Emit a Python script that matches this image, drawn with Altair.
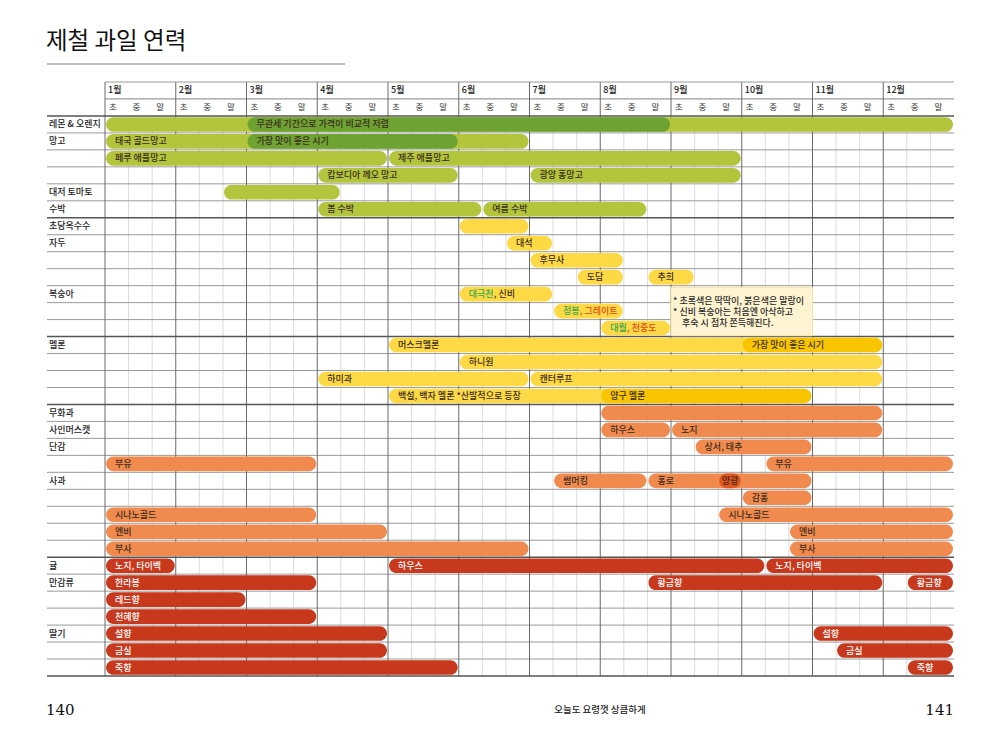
import altair as alt
import pandas as pd

FONT = "Noto Sans CJK KR"
FS = 9

row_names = ["레몬 & 오렌지", "망고", "", "", "대저 토마토", "수박", "초당옥수수", "자두", "", "",
             "복숭아", "", "", "멜론", "", "", "", "무화과", "사인머스캣", "단감", "", "사과", "",
             "", "", "", "귤", "만감류", "", "", "딸기", "", ""]

months = [f"{m}월" for m in range(1, 13)]
dekads = ["초", "중", "말"]

# bars: row, start (dekad index 0-36), end, label, tone
bar_row = [0, 0, 1, 1, 2, 2, 3, 3, 4, 5, 5,
           6, 7, 8, 9, 9, 10, 11, 12,
           13, 13, 14, 15, 15, 16, 16,
           17, 18, 18, 19, 20, 20, 21, 21, 21, 22, 23, 23, 24, 24, 25, 25,
           26, 26, 26, 27, 27, 27, 28, 29, 30, 30, 31, 31, 32, 32]
bar_start = [0, 6, 0, 6, 0, 12, 9, 18, 5, 9, 16,
             15, 17, 18, 20, 23, 15, 19, 21,
             12, 27, 15, 9, 18, 12, 21,
             21, 21, 24, 25, 0, 28, 19, 23, 26, 27, 0, 26, 0, 29, 0, 29,
             0, 12, 28, 0, 23, 34, 0, 0, 0, 30, 0, 31, 0, 34]
bar_end = [36, 24, 18, 15, 12, 27, 15, 27, 10, 16, 23,
           18, 19, 22, 22, 25, 19, 22, 24,
           33, 33, 33, 18, 33, 22, 30,
           33, 24, 33, 30, 9, 36, 23, 30, 27, 30, 9, 36, 12, 36, 18, 36,
           3, 28, 36, 9, 33, 36, 6, 9, 12, 36, 12, 36, 15, 36]
bar_label = ["", "무관세 기간으로 가격이 비교적 저렴", "태국 골드망고", "가장 맛이 좋은 시기",
             "페루 애플망고", "제주 애플망고", "캄보디아 께오 망고", "광양 홍망고", "", "봄 수박", "여름 수박",
             "", "대석", "후무사", "도담", "추희", "", "", "",
             "머스크멜론", "가장 맛이 좋은 시기", "하니원", "하미과", "캔터루프",
             "백설, 백자 멜론 *산발적으로 등장", "양구 멜론",
             "", "하우스", "노지", "상서, 태추", "부유", "부유", "썸머킹", "홍로", "양광", "감홍",
             "시나노골드", "시나노골드", "엔비", "엔비", "부사", "부사",
             "노지, 타이벡", "하우스", "노지, 타이벡", "한라봉", "황금향", "황금향", "레드향", "천혜향",
             "설향", "설향", "금실", "금실", "죽향", "죽향"]
bar_tone = ["g", "G", "g", "G", "g", "g", "g", "g", "g", "g", "g",
            "y", "y", "y", "y", "y", "y", "y", "y",
            "y", "Y", "y", "y", "y", "y", "Y",
            "o", "o", "o", "o", "o", "o", "o", "o", "O", "o", "o", "o", "o", "o", "o", "o",
            "r", "r", "r", "r", "r", "r", "r", "r", "r", "r", "r", "r", "r", "r"]

# multi-coloured peach labels
part_row = [10, 10, 11, 11, 12, 12]
part_start = [15, 15, 19, 19, 21, 21]
part_text = ["대극천", ", 신비", "정봉", ", 그레이트", "대월", ", 천중도"]
part_tone = ["green", "ink", "green", "red", "green", "red"]
part_lead = [0, 3, 0, 2, 0, 2]

note_lines = ["* 초록색은 딱딱이, 붉은색은 말랑이", "* 신비 복숭아는 처음엔 아삭하고",
              "후숙 시 점차 쫀득해진다."]
note_indent = [0, 0, 1]

group_lines = [0, 6, 13, 17, 26, 33]

tone_fill = {"g": "#B3C43D", "G": "#6EA233", "y": "#FDD945", "Y": "#F9C400",
             "o": "#F08A4E", "O": "#E4541E", "r": "#C8381D"}
text_col = {"green": "#34A853", "ink": "#3a2c1c", "red": "#E2471C"}

xs = alt.Scale(domain=[0, 36], range=[97, 946], nice=False, zero=False)
ys = alt.Scale(domain=[-2, 33], range=[74, 668], nice=False, zero=False)


def X(f):
    return alt.X(f, type="quantitative", scale=xs, axis=None)


def Y(f):
    return alt.Y(f, type="quantitative", scale=ys, axis=None)


bars = pd.DataFrame({"row": bar_row, "start": bar_start, "end": bar_end,
                     "label": bar_label, "tone": bar_tone})
bars["fill"] = bars["tone"].map(tone_fill)
bars["tcol"] = ["#ffffff" if t == "r" else "#3a2c1c" for t in bars["tone"]]
bars["x0"] = bars["start"] + 0.045
bars["x1"] = bars["end"] - 0.045
bars["y0"] = bars["row"] + 0.07
bars["y1"] = bars["row"] + 0.93
bars["yc"] = bars["row"] + 0.5
bars["xm"] = (bars["start"] + bars["end"]) / 2
bars["short"] = (bars["end"] - bars["start"]) <= 1

# grid
dek_df = pd.DataFrame({"x": [d for d in range(1, 36) if d % 3 != 0]})
dek_df["y0"] = 0
dek_df["y1"] = 33
mon_df = pd.DataFrame({"x": list(range(0, 36, 3))})
mon_df["y0"] = -2
mon_df["y1"] = 33
hl_df = pd.DataFrame({"y": [r for r in range(1, 33) if r not in group_lines]})
gl_df = pd.DataFrame({"y": group_lines})
hd_df = pd.DataFrame({"y": [-2, -1], "x0": [0, 0], "x1": [36, 36]})

dek_rules = alt.Chart(dek_df).mark_rule(color="#dcdcdc", strokeWidth=1).encode(
    x=X("x"), y=Y("y0"), y2="y1")
mon_rules = alt.Chart(mon_df).mark_rule(color="#6a6a6a", strokeWidth=1).encode(
    x=X("x"), y=Y("y0"), y2="y1")
h_rules = alt.Chart(hl_df).mark_rule(color="#9a9a9a", strokeWidth=1).encode(
    y=Y("y"), x=alt.value(39), x2=alt.value(946))
hd_rules = alt.Chart(hd_df).mark_rule(color="#9a9a9a", strokeWidth=1.2).encode(
    y=Y("y"), x=X("x0"), x2="x1")
g_rules = alt.Chart(gl_df).mark_rule(color="#555555", strokeWidth=1.4).encode(
    y=Y("y"), x=alt.value(39), x2=alt.value(946))

bar_layer = alt.Chart(bars).mark_bar(cornerRadius=7.4).encode(
    x=X("x0"), x2="x1", y=Y("y0"), y2="y1",
    color=alt.Color("fill:N", scale=None))

note_df = pd.DataFrame({"x0": [24.0], "x1": [30.0], "y0": [10.1], "y1": [12.95]})
note_box = alt.Chart(note_df).mark_rect(fill="#FFF4D2", stroke="#F2E3A6", strokeWidth=1).encode(
    x=X("x0"), x2="x1", y=Y("y0"), y2="y1")

lab_long = alt.Chart(bars[(~bars["short"]) & (bars["label"] != "")]).mark_text(
    align="left", baseline="middle", dx=10, font=FONT, fontSize=FS, fontWeight=500).encode(
    x=X("start"), y=Y("yc"), text="label:N", color=alt.Color("tcol:N", scale=None))
lab_short = alt.Chart(bars[bars["short"] & (bars["label"] != "")]).mark_text(
    align="center", baseline="middle", font=FONT, fontSize=FS, fontWeight=500).encode(
    x=X("xm"), y=Y("yc"), text="label:N", color=alt.Color("tcol:N", scale=None))

parts = pd.DataFrame({"row": part_row, "start": part_start, "text": part_text,
                      "tone": part_tone, "lead": part_lead})
parts["col"] = parts["tone"].map(text_col)
parts["yc"] = parts["row"] + 0.5
part_layers = []
for lead in sorted(set(part_lead)):
    part_layers.append(alt.Chart(parts[parts["lead"] == lead]).mark_text(
        align="left", baseline="middle", dx=10 + lead * FS * 0.93, font=FONT, fontSize=FS,
        fontWeight=500).encode(
        x=X("start"), y=Y("yc"), text="text:N", color=alt.Color("col:N", scale=None)))

nt_df = pd.DataFrame({"text": note_lines, "x": [24, 24, 24], "y": [10.92, 11.57, 12.22],
                      "indent": note_indent})
note_layers = []
for ind in sorted(set(note_indent)):
    note_layers.append(alt.Chart(nt_df[nt_df["indent"] == ind]).mark_text(
        align="left", baseline="middle", dx=2 + ind * 9, font=FONT,
        fontSize=FS, fontWeight=500, color="#2a2a2a").encode(
        x=X("x"), y=Y("y"), text="text:N"))

mh_df = pd.DataFrame({"text": months, "x": [3 * i for i in range(12)]})
mh_df["y"] = -1.5
month_text = alt.Chart(mh_df).mark_text(align="left", baseline="middle", dx=3, font=FONT,
                                         fontSize=FS, fontWeight=500, color="#222").encode(
    x=X("x"), y=Y("y"), text="text:N")
dh_df = pd.DataFrame({"text": dekads * 12, "x": list(range(36))})
dh_df["y"] = -0.5
dek_text = alt.Chart(dh_df).mark_text(align="left", baseline="middle", dx=4, font=FONT,
                                       fontSize=8.5, color="#333").encode(
    x=X("x"), y=Y("y"), text="text:N")

rl_df = pd.DataFrame({"text": row_names, "row": list(range(len(row_names)))})
rl_df = rl_df[rl_df["text"] != ""].copy()
rl_df["yc"] = rl_df["row"] + 0.5
row_text = alt.Chart(rl_df).mark_text(align="left", baseline="middle", font=FONT,
                                       fontSize=FS, fontWeight=500, color="#222").encode(
    x=alt.value(41), y=Y("yc"), text="text:N")

one = pd.DataFrame({"a": [1]})
title = alt.Chart(one).mark_text(align="left", baseline="middle", font=FONT, fontSize=23.5,
                                 color="#111", text="제철 과일 연력").encode(
    x=alt.value(38), y=alt.value(34))
underline = alt.Chart(one).mark_rule(color="#aaaaaa", strokeWidth=1.5).encode(
    x=alt.value(39), x2=alt.value(337), y=alt.value(56))
pg_l = alt.Chart(one).mark_text(align="left", baseline="middle", font="DejaVu Serif",
                                fontSize=15, color="#111", text="140").encode(
    x=alt.value(38), y=alt.value(702))
pg_r = alt.Chart(one).mark_text(align="right", baseline="middle", font="DejaVu Serif",
                                fontSize=15, color="#111", text="141").encode(
    x=alt.value(946), y=alt.value(702))
footer = alt.Chart(one).mark_text(align="center", baseline="middle", font=FONT, fontSize=9.5,
                                  fontWeight=500, color="#222", text="오늘도 요령껏 상큼하게").encode(
    x=alt.value(592), y=alt.value(702))

chart = alt.layer(
    dek_rules, h_rules, hd_rules, mon_rules, g_rules, bar_layer, note_box,
    lab_long, lab_short, *part_layers, *note_layers, month_text, dek_text, row_text,
    title, underline, pg_l, pg_r, footer
).properties(
    width=984, height=714, autosize=alt.AutoSizeParams(type="none"), padding=0,
    background="white"
).configure_view(stroke=None)

chart.save("out.html", embed_options={"renderer": "svg", "actions": False})
